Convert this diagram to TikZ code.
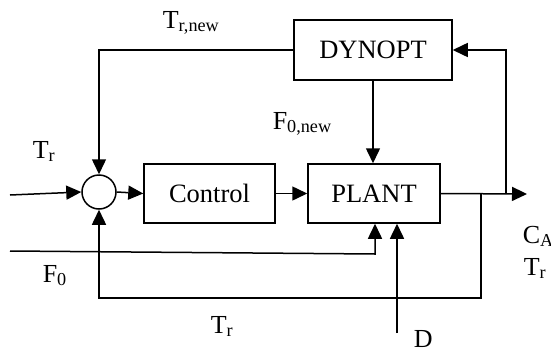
\documentclass[tikz,border=0pt]{standalone}
\usepackage{fontspec}
\setmainfont{Liberation Serif}
\usetikzlibrary{arrows.meta}
\begin{document}
\begin{tikzpicture}[x=1pt,y=-1pt,line width=1.5pt,
		box/.style={draw, rectangle, inner sep=0pt, font=\fontsize{26.5}{30}\selectfont},
		arr/.style={-{Triangle[length=15pt,width=14pt]}},
		lbl/.style={anchor=base west, inner sep=0pt, font=\fontsize{26}{30}\selectfont}]
	\useasboundingbox (0,0) rectangle (551,351);
	
	% khối chính
	\node[box, minimum width=158, minimum height=60] (dynopt) at (373,50) {DYNOPT};
	\node[box, minimum width=131, minimum height=59] (control) at (209.5,193.5) {Control};
	\node[box, minimum width=132, minimum height=59] (plant) at (374,193.5) {PLANT};
	\node[draw, circle, minimum size=34, inner sep=0pt] (sum) at (99,192) {};
	
	% điểm phụ
	\coordinate (in) at (10,195);
	\coordinate (out) at (527,194);
	\coordinate (up) at (506,194);
	\coordinate (down) at (481,194);
	\coordinate (back) at (481,298);
	\coordinate (f0) at (10,251);
	\coordinate (f0end) at (375,254);
	\coordinate (d) at (397,333);
	
	% đường nối
	\draw[arr] (in) -- (sum.west);
	\draw[arr] (sum.east) -- (control.west);
	\draw[arr] (control) -- (plant);
	\draw[arr] (plant.east) -- (out);
	\draw[arr] (up) |- (dynopt.east);
	\draw[arr] (dynopt.west) -| (sum.north);
	\draw[arr] (dynopt.south) -- (plant.north -| dynopt.south);
	\draw[arr] (down) -- (back) -| (sum.south);
	\draw[arr] (f0) -- (f0end) -- (f0end |- plant.south);
	\draw[arr] (d) -- (d |- plant.south);
	
	% nhãn
	\node[lbl] (trnew) at (162,28) {T\textsubscript{r,new}};
	\node[lbl] (f0new) at (272,129) {F\textsubscript{0,new}};
	\node[lbl] (trin) at (32,158) {T\textsubscript{r}};
	\node[lbl] (f0lbl) at (42,282) {F\textsubscript{0}};
	\node[lbl] (trback) at (210,333) {T\textsubscript{r}};
	\node[lbl] (dlbl) at (413,347) {D};
	\node[lbl] (ca) at (522,243) {C\textsubscript{A}};
	\node[lbl] (trout) at (523,275) {T\textsubscript{r}};
\end{tikzpicture}
\end{document}
